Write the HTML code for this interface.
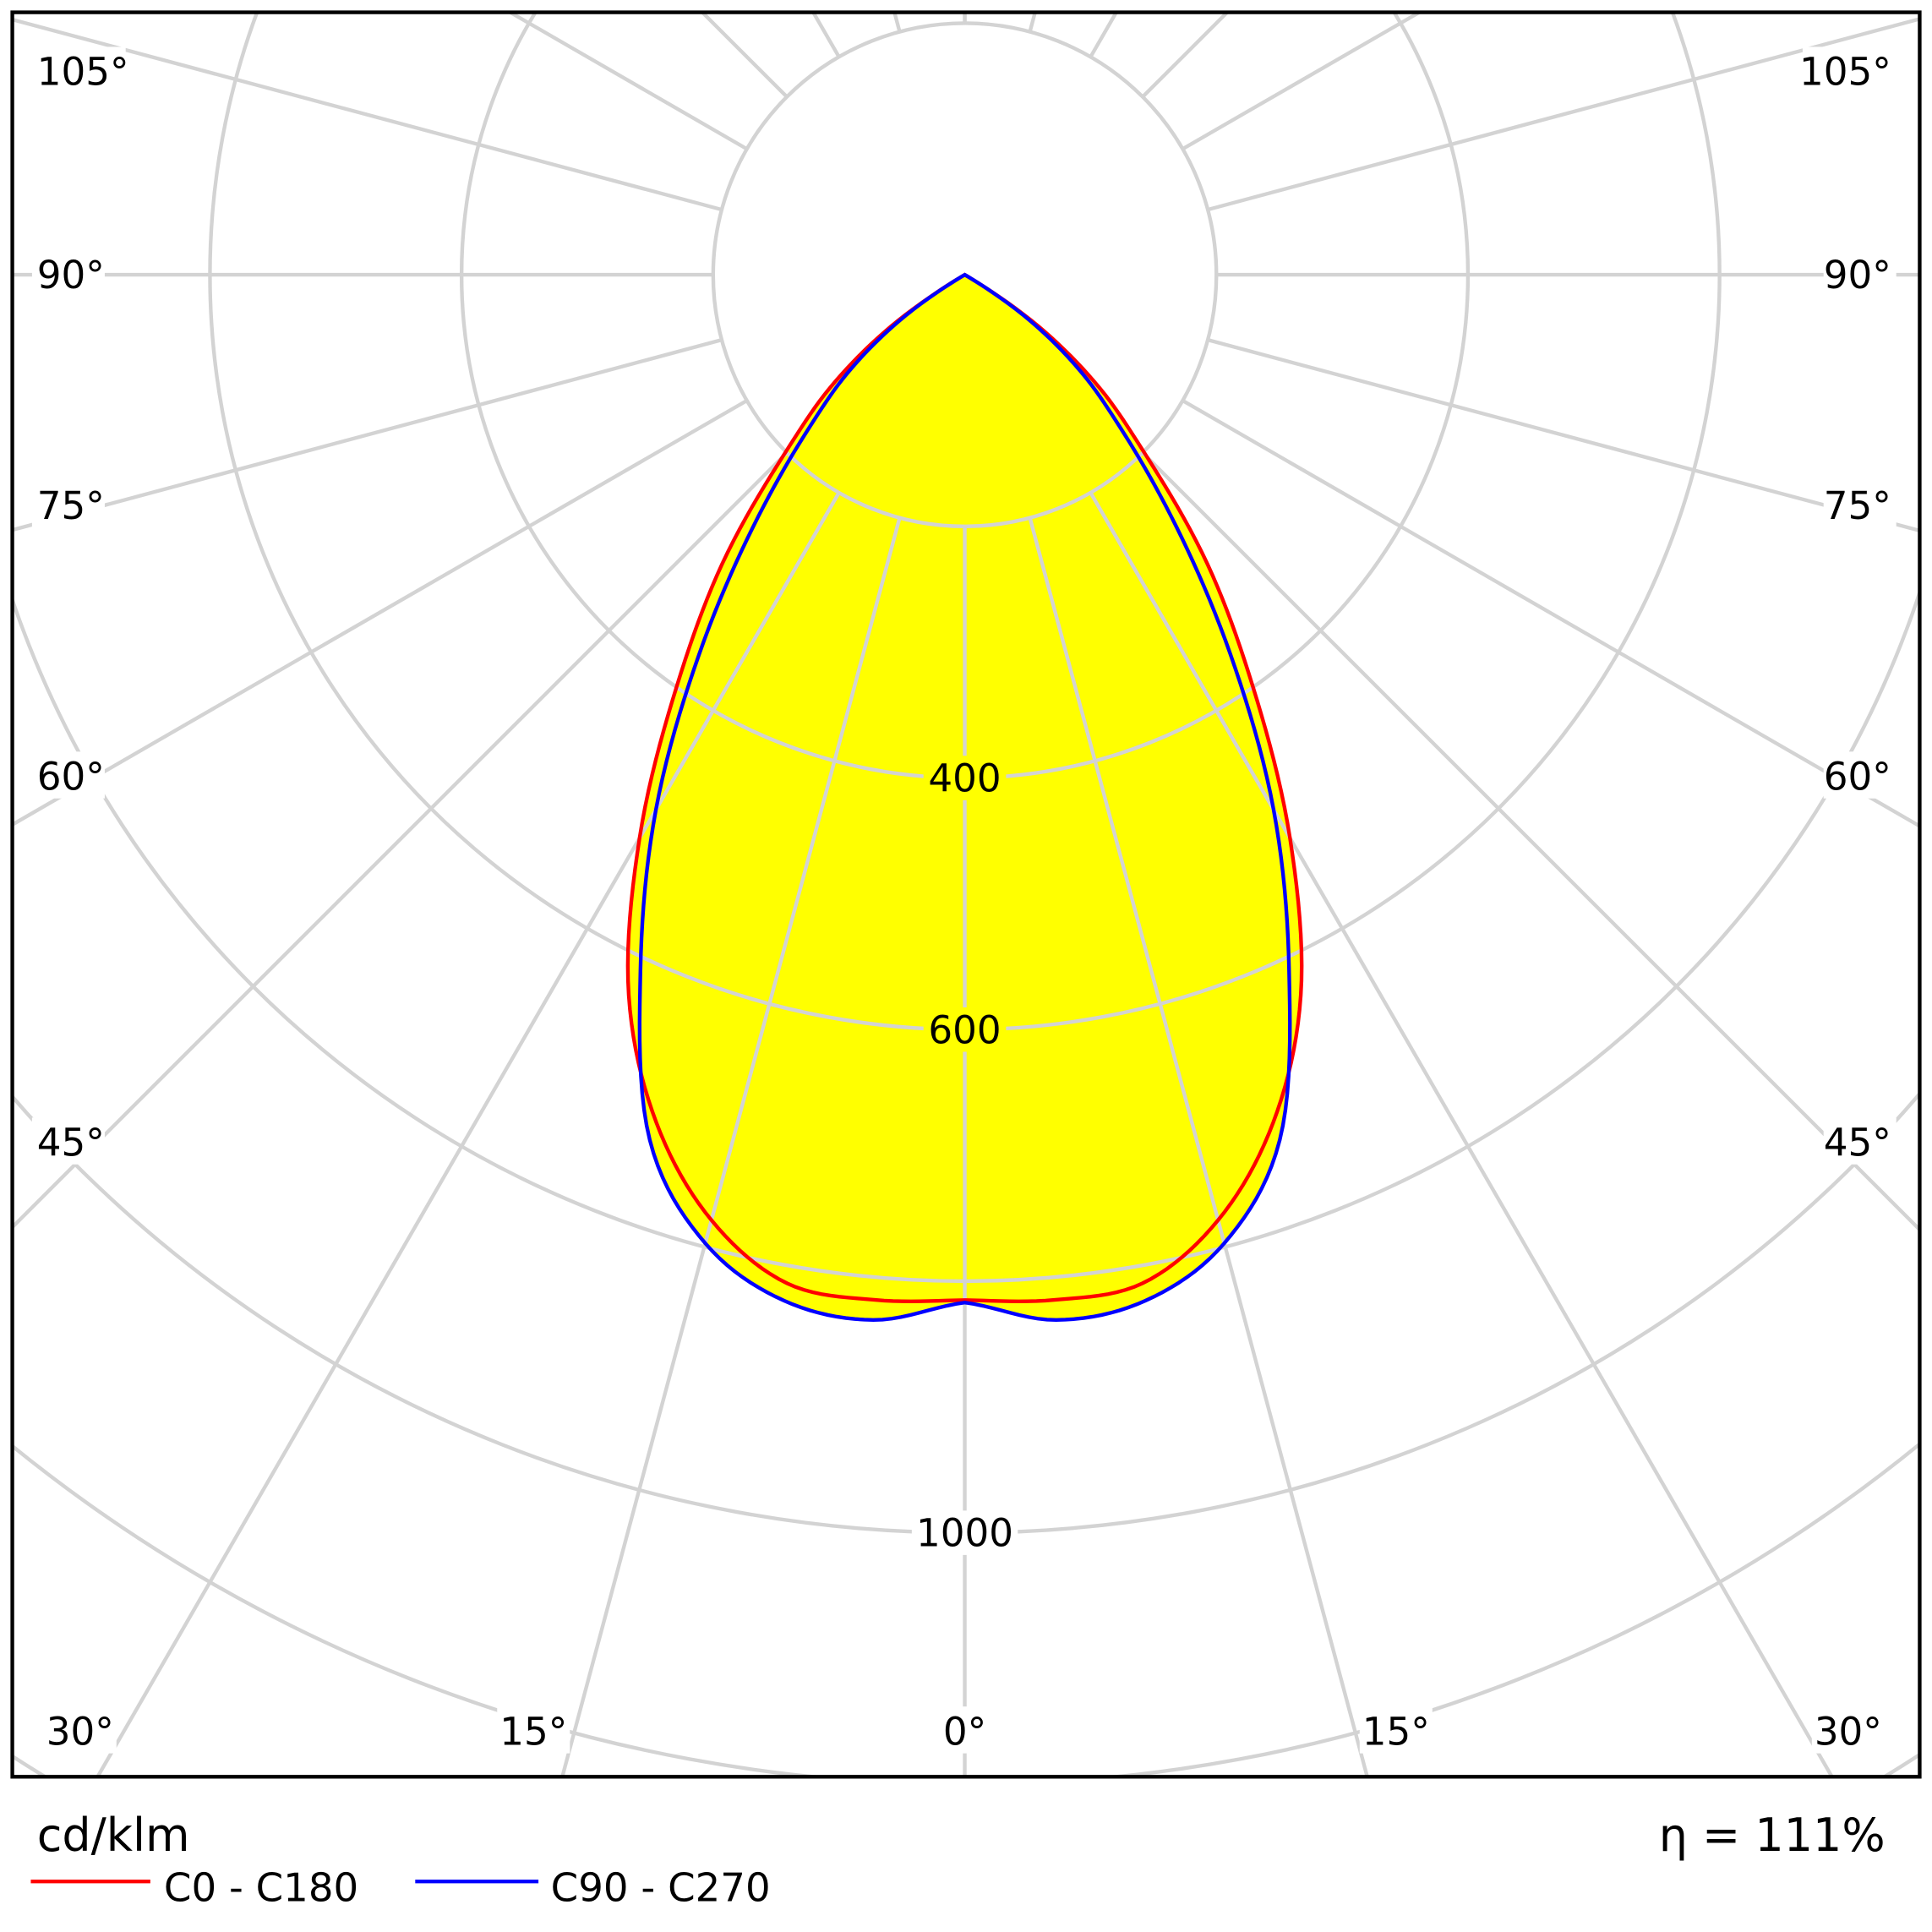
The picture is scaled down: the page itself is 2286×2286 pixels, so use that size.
<!DOCTYPE html>
<html><head><meta charset="utf-8"><style>
html,body{margin:0;padding:0;background:#fff;overflow:hidden;width:2286px;height:2286px;}
svg{display:block;}
text{font-family:"DejaVu Sans","Liberation Sans",sans-serif;}
</style></head><body>
<svg id="chart" width="2286" height="2286" viewBox="0 0 1568 1568" xmlns="http://www.w3.org/2000/svg">
<defs><clipPath id="frameclip"><rect x="10" y="10" width="1548" height="1432"/></clipPath></defs>
<rect x="0" y="0" width="1568" height="1568" fill="#fff"/>
<g id="fills" clip-path="url(#frameclip)"></g>
<g id="grid" clip-path="url(#frameclip)"></g>
<g id="curves" clip-path="url(#frameclip)"></g>
<g id="labels"></g>
<rect x="10" y="10" width="1548" height="1432" fill="none" stroke="#000" stroke-width="3"/>
<text x="30" y="1502" font-size="37">cd/klm</text>
<text x="1530" y="1502" font-size="37" text-anchor="end">η = 111%</text>
<line x1="25" y1="1527" x2="122" y2="1527" stroke="#f00" stroke-width="3"/>
<text x="133" y="1543" font-size="32">C0 - C180</text>
<line x1="337" y1="1527" x2="437" y2="1527" stroke="#00f" stroke-width="3"/>
<text x="447" y="1543" font-size="32">C90 - C270</text>
</svg>
<script>
// data
const gammaAngles = [0,5,10,15,20,25,30,35,40,45,50,55,60,65,70,75,80,85,90];
const seriesC0C180 = [815,818,814,778,717,632,517,399,300,205,140,72,0,0,0,0,0,0,0];
const seriesC90C270 = [817,834,828,797,732,610,491,368,262,180,122,62,0,0,0,0,0,0,0];
const ringValues = [200,400,600,800,1000,1200,1400];
const ringLabels = ["400","600","1000"];
const sideAngleLabels = ["45°","60°","75°","90°","105°"];
const sideLabelY = [927,630,410,223,58];

const NS = "http://www.w3.org/2000/svg";
const cx = 783, cy = 223, pxPer = 1.021;
function rScale(v){ return v * pxPer; }
function pt(gDeg, v){ const g = gDeg*Math.PI/180; const r = rScale(v); return [cx + r*Math.sin(g), cy + r*Math.cos(g)]; }
function mk(tag, attrs, parent){ const e = document.createElementNS(NS, tag); for (const k in attrs) e.setAttribute(k, attrs[k]); parent.appendChild(e); return e; }

function interp(vals, g){
  const step = gammaAngles[1]-gammaAngles[0];
  const n = vals.length;
  let i = Math.floor(g/step); if (i >= n-1) return vals[n-1];
  const t = (g - gammaAngles[i])/step;
  const p0 = vals[Math.max(i-1,0)], p1 = vals[i], p2 = vals[i+1], p3 = vals[Math.min(i+2,n-1)];
  const v = 0.5*((2*p1)+(-p0+p2)*t+(2*p0-5*p1+4*p2-p3)*t*t+(-p0+3*p1-3*p2+p3)*t*t*t);
  return Math.max(0, v);
}
function curvePath(vals){
  const pts = [];
  const maxG = gammaAngles[gammaAngles.length-1];
  for (let g = -maxG; g <= maxG; g += 0.5){ pts.push(pt(g, interp(vals, Math.abs(g)))); }
  return "M" + pts.map(p => p[0].toFixed(2)+","+p[1].toFixed(2)).join("L") + "Z";
}

const fills = document.getElementById('fills');
const grid = document.getElementById('grid');
const curves = document.getElementById('curves');
const labels = document.getElementById('labels');

let f1 = mk('path', {d: curvePath(seriesC0C180), fill: '#ffff00'}, fills);


let f2 = mk('path', {d: curvePath(seriesC90C270), fill: '#ffff00'}, fills);



ringValues.forEach(v => {
  const c = mk('circle', {cx: cx, cy: cy, r: rScale(v), fill: 'none', stroke: '#d3d3d3', 'stroke-width': 3}, grid);
  
  
});
for (let a = -180; a <= 180; a += 15){
  const p1 = pt(a, ringValues[0]), p2 = pt(a, 3000);
  const l = mk('line', {x1: p1[0], y1: p1[1], x2: p2[0], y2: p2[1], stroke: '#d3d3d3', 'stroke-width': 3}, grid);
  
  
}

const cr = mk('path', {d: curvePath(seriesC0C180), fill: 'none', stroke: '#ff0000', 'stroke-width': 3}, curves);


const cb = mk('path', {d: curvePath(seriesC90C270), fill: 'none', stroke: '#0000ff', 'stroke-width': 3}, curves);



ringLabels.forEach(s => {
  const v = +s; const y = cy + rScale(v);
  const bgc = (v <= 600) ? '#ffff00' : '#fff';
  const w = s.length*19 + 10;
  const r = mk('rect', {x: cx - w/2, y: y - 18, width: w, height: 36, fill: bgc}, labels);
  
  
  const t = mk('text', {x: cx, y: y + 11, 'font-size': 31, 'text-anchor': 'middle'}, labels);
  t.textContent = s;
  
  
});

function angleLabel(txt, x, y, anchor){
  const w = txt.length*17 + 8;
  let x0 = anchor === 'start' ? x - 4 : anchor === 'end' ? x - w + 4 : x - w/2;
  const r = mk('rect', {x: x0, y: y - 20, width: w, height: 38, fill: '#fff'}, labels);
  
  
  const t = mk('text', {x: x, y: y + 11, 'font-size': 31, 'text-anchor': anchor}, labels);
  t.textContent = txt;
  
  
}
sideAngleLabels.forEach((s, i) => {
  angleLabel(s, 30, sideLabelY[i], 'start');
  angleLabel(s, 1535, sideLabelY[i], 'end');
});
angleLabel('0°', 783, 1405, 'middle');
angleLabel('15°', 433, 1405, 'middle');
angleLabel('15°', 1133, 1405, 'middle');
angleLabel('30°', 65, 1405, 'middle');
angleLabel('30°', 1500, 1405, 'middle');
</script>
</body></html>
